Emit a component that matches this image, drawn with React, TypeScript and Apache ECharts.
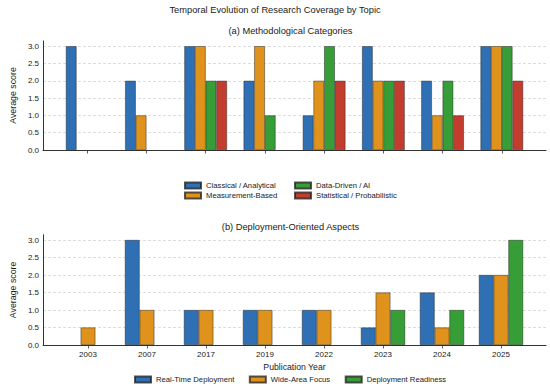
import React, { useEffect, useRef } from "react";
import * as echarts from "echarts";

const years = ["2003", "2007", "2017", "2019", "2022", "2023", "2024", "2025"];
const yearIdx = [0, 1, 2, 3, 4, 5, 6, 7];
const yTicks = [0, 0.5, 1, 1.5, 2, 2.5, 3];

const methodNames = ["Classical / Analytical", "Measurement-Based", "Data-Driven / AI", "Statistical / Probabilistic"];
const classical = [3, 2, 3, 2, 1, 3, 2, 3];
const measurement = [0, 1, 3, 3, 2, 2, 1, 3];
const dataDriven = [0, 0, 2, 1, 3, 2, 2, 3];
const statistical = [0, 0, 2, 0, 2, 2, 1, 2];

const deployNames = ["Real-Time Deployment", "Wide-Area Focus", "Deployment Readiness"];
const realTime = [0, 3, 1, 1, 1, 0.5, 1.5, 2];
const wideArea = [0.5, 1, 1, 1, 1, 1.5, 0.5, 2];
const readiness = [0, 0, 0, 0, 0, 1, 1, 3];

const colors = ["#2f6fb3", "#e0931c", "#379d37", "#c23d2e"];
const FONT = "'Liberation Sans', Arial, Helvetica, sans-serif";
const TXT = "#1a1a1a";

function xAxisCfg(grid: number, min: number, max: number, labels: boolean) {
  return {
    type: "value",
    gridIndex: grid,
    min,
    max,
    axisLine: { show: true, onZero: false, lineStyle: { color: "#333", width: 1 } },
    axisTick: { show: true, customValues: yearIdx, length: 3.5, lineStyle: { color: "#333", width: 0.8 } },
    axisLabel: {
      show: labels,
      customValues: yearIdx,
      formatter: (v: number) => years[Math.round(v)] ?? "",
      fontSize: 8,
      color: TXT,
      fontFamily: FONT,
      margin: 5.5,
    },
    splitLine: { show: false },
    name: labels ? "Publication Year" : "",
    nameLocation: "middle",
    nameGap: 17,
    nameTextStyle: { fontSize: 8.7, color: TXT, fontFamily: FONT },
  };
}

function yAxisCfg(grid: number) {
  return {
    type: "value",
    gridIndex: grid,
    min: 0,
    max: 3.15,
    interval: 0.5,
    axisLine: { show: true, onZero: false, lineStyle: { color: "#333", width: 1 } },
    axisTick: { show: false },
    axisLabel: {
      customValues: yTicks,
      formatter: (v: number) => v.toFixed(1),
      fontSize: 8,
      color: TXT,
      fontFamily: FONT,
      margin: 4,
    },
    splitLine: {
      show: true,
      showMaxLine: false,
      lineStyle: { color: "#cfcfcf", type: [3, 2], width: 0.7 },
    },
    name: "Average score",
    nameLocation: "middle",
    nameGap: 21,
    nameTextStyle: { fontSize: 8.8, color: TXT, fontFamily: FONT },
  };
}

function barSeries(name: string, vals: number[], grid: number, color: string, width: string) {
  return {
    type: "bar",
    name,
    xAxisIndex: grid,
    yAxisIndex: grid,
    data: vals.map((v, i) => [i, v === 0 ? null : v]),
    barWidth: width,
    barGap: "0%",
    itemStyle: { color, borderColor: "rgba(30,30,30,0.75)", borderWidth: 0.6 },
  };
}

export default function App() {
  const ref = useRef<HTMLDivElement>(null);
  useEffect(() => {
    if (!ref.current) return;
    const chart = echarts.init(ref.current, null, { renderer: "svg" });
    const methodVals = [classical, measurement, dataDriven, statistical];
    const deployVals = [realTime, wideArea, readiness];
    const legendText = { fontSize: 7.7, color: TXT, fontFamily: FONT };
    const legendBase = {
      itemWidth: 16,
      itemHeight: 6,
      icon: "rect",
      textStyle: legendText,
      selectedMode: false,
      padding: 0,
    };
    chart.setOption({
      animation: false,
      backgroundColor: "#ffffff",
      textStyle: { fontFamily: FONT },
      grid: [
        { left: 35, right: 4, top: 41, height: 109 },
        { left: 35, right: 4, top: 234.75, height: 110.25 },
      ],
      xAxis: [xAxisCfg(0, -0.746, 7.746, false), xAxisCfg(1, -0.7625, 7.7625, true)],
      yAxis: [yAxisCfg(0), yAxisCfg(1)],
      legend: [
        { ...legendBase, data: [methodNames[0], methodNames[1]], orient: "vertical", left: 184, top: 181.5, itemGap: 2 },
        { ...legendBase, data: [methodNames[2], methodNames[3]], orient: "vertical", left: 294, top: 181.5, itemGap: 2 },
        { ...legendBase, data: deployNames, orient: "horizontal", left: 134, top: 375.5, itemGap: 14.5 },
      ],
      graphic: [
        {
          type: "text",
          x: 275,
          y: 10,
          style: {
            text: "Temporal Evolution of Research Coverage by Topic",
            fontSize: 9.3,
            fontFamily: FONT,
            fill: TXT,
            textAlign: "center",
            textVerticalAlign: "middle",
          },
        },
        {
          type: "text",
          x: 290.5,
          y: 31,
          style: {
            text: "(a) Methodological Categories",
            fontSize: 9.3,
            fontFamily: FONT,
            fill: TXT,
            textAlign: "center",
            textVerticalAlign: "middle",
          },
        },
        {
          type: "text",
          x: 290.5,
          y: 227,
          style: {
            text: "(b) Deployment-Oriented Aspects",
            fontSize: 9.3,
            fontFamily: FONT,
            fill: TXT,
            textAlign: "center",
            textVerticalAlign: "middle",
          },
        },
      ],
      series: [
        ...methodNames.map((n, i) => barSeries(n, methodVals[i], 0, colors[i], "18%")),
        ...deployNames.map((n, i) => barSeries(n, deployVals[i], 1, colors[i], "25%")),
      ],
    });
    return () => chart.dispose();
  }, []);
  return (
    <div
      ref={ref}
      style={{ position: "fixed", left: 0, top: 0, width: 550, height: 388, background: "#fff" }}
    />
  );
}
